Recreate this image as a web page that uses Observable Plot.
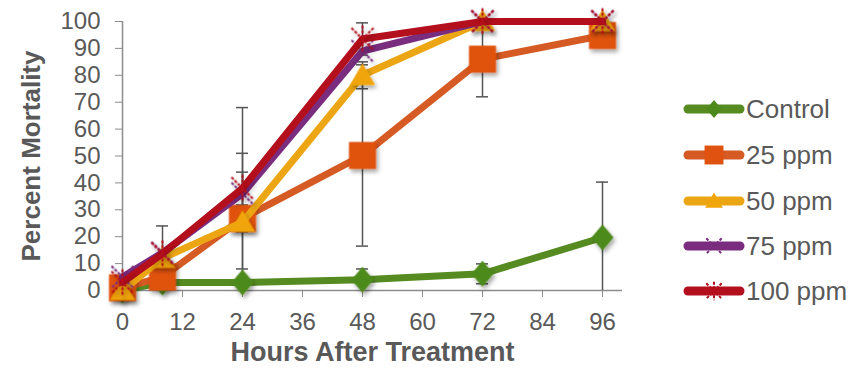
<!DOCTYPE html>
<html>
<head>
<meta charset="utf-8">
<script src="https://cdn.jsdelivr.net/npm/d3@7"></script>
<script src="https://cdn.jsdelivr.net/npm/@observablehq/plot@0.6"></script>
<style>
  html, body { margin: 0; padding: 0; background: #fff; }
  #wrap { position: relative; width: 851px; height: 373px; font-family: "Liberation Sans", Arial, sans-serif; }
  #legend { position: absolute; left: 683px; top: 0; }
  .lrow { position: absolute; left: 0; display: flex; align-items: center; white-space: nowrap; }
  .lrow span { font-size: 26px; color: #595959; margin-left: 1px; }
</style>
</head>
<body>
<div id="wrap"><div id="legend"></div></div>
<script>
// ---- data ----
const hours = [0, 8, 24, 48, 72, 96];
const seriesNames = ["Control", "25 ppm", "50 ppm", "75 ppm", "100 ppm"];
const control = [0, 3, 3, 4, 6.2, 19.7];
const ppm25  = [1, 5, 26.8, 50.2, 86, 94.8];
const ppm50  = [0, 12, 25.4, 80, 100, 100];
const ppm75  = [5, 14, 36, 89, 100, 100];
const ppm100 = [3, 13.7, 38, 93.5, 100, 100];
const controlErr = [0, 0, 0, 4, 3.7, 20.6];
const ppm25Err  = [0, 0, 5, 33.7, 14, 4.4];
const ppm50Err  = [0, 12, 25.6, 5, 0, 0];
const ppm75Err  = [0, 0, 8, 0, 0, 0];
const ppm100Err = [0, 0, 30, 6, 0, 0];
const xTicks = [0, 12, 24, 36, 48, 60, 72, 84, 96];
const yTicks = [0, 10, 20, 30, 40, 50, 60, 70, 80, 90, 100];
const xTitle = "Hours After Treatment";
const yTitle = "Percent Mortality";

const lineColors = ["#568B22", "#D65A24", "#ECA614", "#7A2D7F", "#B40F1C"];
const markFill   = ["#4E8A1B", "#E0520F", "#F0A509", "none", "none"];

// custom symbols
const diamond = {draw(ctx, size) { const r = Math.sqrt(size / Math.PI); ctx.moveTo(0, -r * 1.18); ctx.lineTo(r, 0); ctx.lineTo(0, r * 1.18); ctx.lineTo(-r, 0); ctx.closePath(); }};
const square = {draw(ctx, size) { const r = Math.sqrt(size / Math.PI); ctx.rect(-r, -r, 2 * r, 2 * r); }};
const triangle = {draw(ctx, size) { const r = Math.sqrt(size / Math.PI); ctx.moveTo(0, -r); ctx.lineTo(r * 1.05, r * 0.8); ctx.lineTo(-r * 1.05, r * 0.8); ctx.closePath(); }};
const times = {draw(ctx, size) { const r = Math.sqrt(size / Math.PI); ctx.moveTo(-r, -r); ctx.lineTo(r, r); ctx.moveTo(r, -r); ctx.lineTo(-r, r); }};
const asterisk = {draw(ctx, size) { const r = Math.sqrt(size / Math.PI); ctx.moveTo(-r, -r); ctx.lineTo(r, r); ctx.moveTo(r, -r); ctx.lineTo(-r, r); ctx.moveTo(0, -r * 1.2); ctx.lineTo(0, r * 1.2); }};
const symbols = [diamond, square, triangle, times, asterisk];
const markR = [11, 13.5, 12, 11, 11];

const values = [control, ppm25, ppm50, ppm75, ppm100];
const errs = [controlErr, ppm25Err, ppm50Err, ppm75Err, ppm100Err];
const rows = [];
seriesNames.forEach((s, i) => hours.forEach((h, j) => rows.push({series: s, si: i, hour: h, value: values[i][j], err: errs[i][j]})));
const errRows = rows.filter(d => d.err > 0).map(d => ({...d, lo: Math.max(0, d.value - d.err), hi: Math.min(100, d.value + d.err)}));

const seriesMarks = [];
seriesNames.forEach((s, i) => {
  const data = rows.filter(d => d.si === i);
  seriesMarks.push(Plot.line(data, {x: "hour", y: "value", stroke: lineColors[i], strokeWidth: 7, strokeLinejoin: "round", strokeLinecap: "round"}));
  if (i < 3) {
    seriesMarks.push(Plot.dot(data, {x: "hour", y: "value", symbol: symbols[i], r: markR[i], fill: markFill[i], stroke: "none", className: "mk"}));
  } else {
    seriesMarks.push(Plot.dot(data, {x: "hour", y: "value", symbol: symbols[i], r: markR[i], fill: "none", stroke: lineColors[i], strokeWidth: 2, strokeDasharray: "3,1.5", className: "mk"}));
  }
});

const chart = Plot.plot({
  width: 851, height: 373,
  marginLeft: 122, marginRight: 229, marginTop: 21, marginBottom: 83,
  style: {fontFamily: "'Liberation Sans', Arial, sans-serif", fontSize: "24px", color: "#595959", background: "white", overflow: "visible"},
  x: {domain: [0, 100]},
  y: {domain: [0, 100]},
  marks: [
    Plot.axisX({ticks: xTicks, tickSize: 7, tickPadding: 15, stroke: "#8C8C8C", fill: "#595959", label: null, fontSize: 24}),
    Plot.axisY({ticks: yTicks, tickSize: 7, tickPadding: 15, stroke: "#8C8C8C", fill: "#595959", label: null, fontSize: 24}),
    Plot.ruleY([0], {stroke: "#8C8C8C", strokeWidth: 1.5}),
    Plot.ruleX([0], {stroke: "#8C8C8C", strokeWidth: 1.5}),
    Plot.ruleX(errRows, {x: "hour", y1: "lo", y2: "hi", stroke: "#555", strokeWidth: 1.5}),
    Plot.ruleY(errRows, {y: "hi", x1: d => d.hour - 1.2, x2: d => d.hour + 1.2, stroke: "#555", strokeWidth: 1.5}),
    Plot.ruleY(errRows.filter(d => d.value - d.err > 0), {y: "lo", x1: d => d.hour - 1.2, x2: d => d.hour + 1.2, stroke: "#555", strokeWidth: 1.5}),
    ...seriesMarks,
    Plot.text([yTitle], {text: d => d, frameAnchor: "left", textAnchor: "middle", rotate: -90, dx: -91, fontWeight: "bold", fontSize: 26, fill: "#595959"}),
    Plot.text([xTitle], {text: d => d, frameAnchor: "bottom", textAnchor: "middle", dy: 70, fontWeight: "bold", fontSize: 27, fill: "#595959"})
  ]
});

// drop shadow on markers
const svg = d3.select(chart);
const defs = svg.insert("defs", ":first-child");
defs.append("filter").attr("id", "mshadow").attr("x", "-50%").attr("y", "-50%").attr("width", "200%").attr("height", "200%")
  .append("feDropShadow").attr("dx", 2).attr("dy", 3).attr("stdDeviation", 2).attr("flood-color", "#000").attr("flood-opacity", 0.35);
svg.selectAll("g.mk, .mk").attr("filter", "url(#mshadow)");

document.getElementById("wrap").prepend(chart);

// legend
const legend = d3.select("#legend");
const rowY = [109, 155, 201, 246, 291];
seriesNames.forEach((s, i) => {
  const row = legend.append("div").attr("class", "lrow").style("top", (rowY[i] - 14) + "px").style("height", "28px");
  const sw = row.append("svg").attr("width", 62).attr("height", 28);
  sw.append("line").attr("x1", 5).attr("x2", 57).attr("y1", 14).attr("y2", 14)
    .attr("stroke", lineColors[i]).attr("stroke-width", 9).attr("stroke-linecap", "round");
  const sym = d3.symbol().type(symbols[i]).size(Math.PI * Math.pow(markR[i] * 0.7, 2));
  const p = sw.append("path").attr("d", sym()).attr("transform", "translate(31,14)");
  if (i < 3) p.attr("fill", markFill[i]);
  else p.attr("fill", "none").attr("stroke", lineColors[i]).attr("stroke-width", 2).attr("stroke-dasharray", "3,1.5");
  row.append("span").text(s);
});
</script>
</body>
</html>
